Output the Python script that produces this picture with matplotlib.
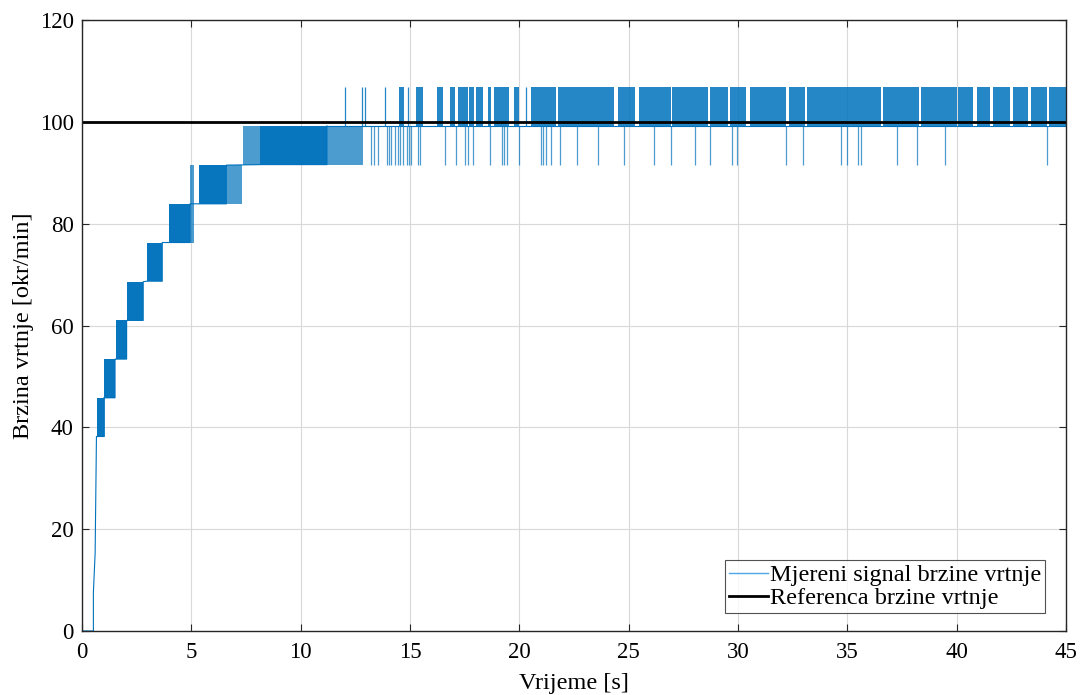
import numpy as np
import matplotlib.pyplot as plt

# quantized speed levels [okr/min]
levels = [0.0, 7.6, 15.3, 22.9, 30.5, 38.2, 45.8, 53.4, 61.0, 68.7, 76.3, 83.9, 91.6, 99.2, 106.8]

# start-up: (time, value) corner points of the measured signal
start_t = [0.0, 0.0, 0.02, 0.52, 0.52, 0.60, 0.62, 0.64, 0.66, 0.70]
start_v = [7.6, 7.6, 0.0, 0.0, 7.6, 15.3, 22.9, 30.5, 38.2, 38.2]

# dense toggling blocks (t start, t end, lower level) - toggles lower <-> next level
dense_t0 = [0.70, 1.00, 1.54, 2.07, 2.96, 3.99, 5.35, 8.14]
dense_t1 = [1.02, 1.51, 2.04, 2.80, 3.67, 4.94, 6.60, 11.20]
dense_lo = [38.2, 45.8, 53.4, 61.0, 68.7, 76.3, 83.9, 91.6]

# sparser toggling around the blocks
sparse_t0 = [4.94, 4.94, 6.60, 7.35, 11.20]
sparse_t1 = [5.13, 5.13, 7.32, 8.14, 12.85]
sparse_lo = [76.3, 83.9, 83.9, 91.6, 91.6]

# steady level after the run-up
steady_t = [11.20, 45.0]
steady_v = [99.2, 99.2]

# bursts of toggling 99.2 <-> 106.8 after ~14 s
up_t0 = [14.51, 15.26, 16.22, 16.83, 17.20, 17.70, 18.00, 18.57, 18.84, 19.74, 20.53,
         21.75, 24.51, 25.46, 27.00, 28.70, 29.65, 30.53, 32.33, 33.15, 36.64, 38.35,
         40.08, 40.94, 41.67, 42.59, 43.40, 44.23]
up_t1 = [14.73, 15.61, 16.52, 17.06, 17.64, 17.93, 18.32, 18.70, 19.53, 20.00, 21.68,
         24.31, 25.27, 26.95, 28.63, 29.54, 30.35, 32.21, 33.05, 36.55, 38.27, 40.00,
         40.76, 41.52, 42.44, 43.28, 44.11, 45.00]
up_single = [12.03, 12.79, 12.94, 13.86, 14.92, 20.30]

# single drops 99.2 -> 91.6
down_single = [13.20, 13.36, 13.55, 13.95, 14.05, 14.15, 14.30, 14.45, 14.55, 14.70,
               14.85, 14.95, 15.05, 15.37, 15.45, 16.60, 17.10, 17.50, 17.64, 17.86,
               18.66, 19.20, 19.30, 19.44, 19.97, 21.00, 21.07, 21.20, 21.45, 21.87,
               22.64, 23.58, 24.77, 26.14, 26.94, 28.02, 28.73, 29.74, 29.95, 32.18,
               32.97, 34.72, 34.97, 35.50, 35.61, 37.25, 38.20, 39.47, 44.11]

ref_t = [0.0, 45.0]
ref_v = [100.0, 100.0]

blue = '#0072BD'
plt.rcParams['font.family'] = ['Liberation Serif', 'DejaVu Serif']

fig = plt.figure(figsize=(10.82, 6.95), dpi=100)
ax = fig.add_axes([0.0758, 0.0921, 0.9094, 0.8791])

step = levels[1] - levels[0]

ax.plot(start_t, start_v, color=blue, lw=0.8)
# staircase base line: each block ends at its upper level
st_t, st_v = [], []
for t0, t1, lo in zip(dense_t0, dense_t1, dense_lo):
    st_t += [t0, t1, t1]
    st_v += [lo, lo, lo + step]
ax.plot(st_t, st_v, color=blue, lw=0.8)
ax.plot(steady_t, steady_v, color=blue, lw=0.8)

for t0, t1, lo in zip(dense_t0, dense_t1, dense_lo):
    ax.fill_between([t0, t1], lo, lo + step, color=blue, alpha=0.97, lw=0)
for t0, t1, lo in zip(sparse_t0, sparse_t1, sparse_lo):
    ax.fill_between([t0, t1], lo, lo + step, color=blue, alpha=0.7, lw=0)
for t0, t1 in zip(up_t0, up_t1):
    ax.fill_between([t0, t1], 99.2, 106.8, color=blue, alpha=0.85, lw=0)
ax.vlines(up_single, 99.2, 106.8, color=blue, lw=0.9, alpha=0.85)
ax.vlines(down_single, 91.6, 99.2, color=blue, lw=0.9, alpha=0.7)

ax.plot([], [], color='#4DA6E8', lw=1.0, label='Mjereni signal brzine vrtnje')
ax.plot(ref_t, ref_v, color='black', lw=2.0, label='Referenca brzine vrtnje')

ax.set_xlim(0, 45)
ax.set_ylim(0, 120)
ax.set_xticks(np.arange(0, 46, 5))
ax.set_yticks(np.arange(0, 121, 20))
ax.grid(True, color='#d9d9d9', lw=0.8)
ax.set_axisbelow(True)
ax.tick_params(direction='in', top=True, right=True, labelsize=16.5, length=5,
               color='#262626')
ax.tick_params(axis='x', pad=8)
ax.tick_params(axis='y', pad=6)
for s in ax.spines.values():
    s.set_color('#262626')
    s.set_linewidth(1.0)

ax.set_xlabel('Vrijeme [s]', fontsize=17.5, labelpad=7)
ax.set_ylabel('Brzina vrtnje [okr/min]', fontsize=17.5, labelpad=4)

leg = ax.legend(loc='lower right', bbox_to_anchor=(0.9787, 0.0295), fontsize=17.5,
                frameon=True, fancybox=False, borderpad=0.15, labelspacing=0.05,
                handletextpad=0.1, handlelength=1.6, borderaxespad=0)
leg.get_frame().set_edgecolor('#262626')
leg.get_frame().set_linewidth(0.8)

fig.savefig('out.png', dpi=100)
